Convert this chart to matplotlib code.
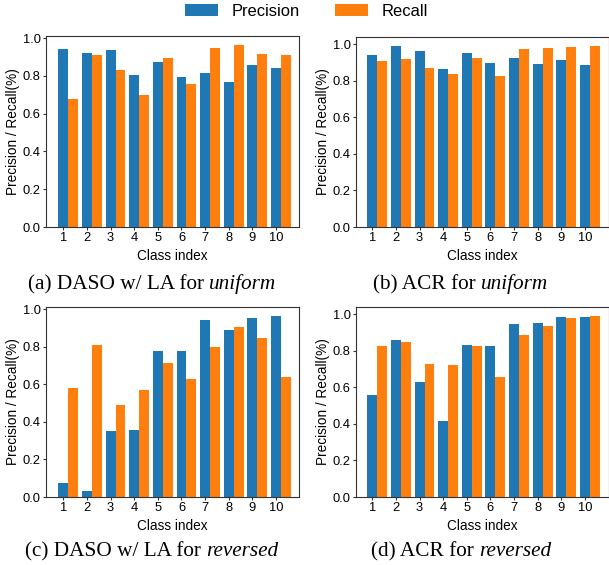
import matplotlib
matplotlib.use("Agg")
import matplotlib.pyplot as plt
import numpy as np

plt.rcParams['font.family'] = ['Liberation Sans', 'DejaVu Sans']

# class indices shared by all four panels
classes = np.arange(1, 11)

# (a) DASO w/ LA, uniform
daso_uni_prec = [0.942, 0.920, 0.936, 0.804, 0.873, 0.793, 0.814, 0.766, 0.857, 0.841]
daso_uni_rec = [0.676, 0.910, 0.830, 0.697, 0.894, 0.756, 0.947, 0.963, 0.915, 0.910]

# (b) ACR, uniform
acr_uni_prec = [0.940, 0.989, 0.962, 0.864, 0.951, 0.896, 0.924, 0.891, 0.913, 0.885]
acr_uni_rec = [0.907, 0.918, 0.869, 0.836, 0.924, 0.825, 0.973, 0.978, 0.984, 0.989]

# (c) DASO w/ LA, reversed
daso_rev_prec = [0.075, 0.032, 0.353, 0.358, 0.775, 0.775, 0.941, 0.888, 0.952, 0.963]
daso_rev_rec = [0.578, 0.807, 0.487, 0.572, 0.711, 0.626, 0.797, 0.904, 0.845, 0.636]

# (d) ACR, reversed
acr_rev_prec = [0.558, 0.859, 0.629, 0.415, 0.832, 0.826, 0.947, 0.952, 0.985, 0.985]
acr_rev_rec = [0.826, 0.848, 0.728, 0.722, 0.826, 0.656, 0.887, 0.936, 0.980, 0.991]

captions = [
    ('(a) DASO w/ LA for ', 'uniform'),
    ('(b) ACR for ', 'uniform'),
    ('(c) DASO w/ LA for ', 'reversed'),
    ('(d) ACR for ', 'reversed'),
]

W, H = 609, 565
fig = plt.figure(figsize=(W / 100, H / 100), dpi=100)

def px_axes(left, top, right, bottom):
    return fig.add_axes([left / W, 1 - bottom / H, (right - left) / W, (bottom - top) / H])

# panel boxes in pixels: left, top, right, bottom
boxes = [(46, 36, 299, 227), (356, 37, 609, 227),
         (46, 307, 299, 497), (356, 307, 609, 497)]
data = [(daso_uni_prec, daso_uni_rec), (acr_uni_prec, acr_uni_rec),
        (daso_rev_prec, daso_rev_rec), (acr_rev_prec, acr_rev_rec)]
xlims = [(0.27, 10.97), (0.31, 11.02), (0.27, 10.97), (0.31, 11.02)]

width = 0.42
for box, (prec, rec), xl in zip(boxes, data, xlims):
    ax = px_axes(*box)
    ax.bar(classes, prec, width=width, color='#1f77b4', label='Precision')
    ax.bar(classes + width, rec, width=width, color='#ff7f0e', label='Recall')
    ax.set_xlim(*xl)
    ax.set_yticks([0.0, 0.2, 0.4, 0.6, 0.8, 1.0])
    ax.set_xticks(classes)
    ax.tick_params(labelsize=9.3, color='#333333', length=2.3, width=0.8, pad=1.6)
    ax.set_xlabel('Class index', fontsize=9.8, labelpad=3)
    ax.set_ylabel('Precision / Recall(%)', fontsize=9.8, labelpad=1.5)
    for sp in ax.spines.values():
        sp.set_color('#333333')

# shared legend on top
handles, labels = fig.axes[0].get_legend_handles_labels()
fig.legend(handles, labels, loc='center', bbox_to_anchor=(306.5 / W, 1 - 11 / H),
           ncol=2, frameon=False, fontsize=11.9, handletextpad=0.85,
           columnspacing=2.1, borderaxespad=0)

# captions under each panel
cap_pos = [(152, 289), (460.5, 289), (152, 556), (461, 556)]
for (cx, cy), (plain, ital) in zip(cap_pos, captions):
    t1 = fig.text(0, 0, plain, fontsize=15.3, family='Liberation Serif')
    t2 = fig.text(0, 0, ital, fontsize=15.3, family='Liberation Serif', style='italic')
    r = fig.canvas.get_renderer()
    w1 = t1.get_window_extent(r).width
    w2 = t2.get_window_extent(r).width
    x0 = cx - (w1 + w2) / 2
    t1.set_position((x0 / W, 1 - cy / H))
    t1.set_va('baseline')
    t2.set_position(((x0 + w1) / W, 1 - cy / H))
    t2.set_va('baseline')

fig.savefig('out.png', dpi=100)
